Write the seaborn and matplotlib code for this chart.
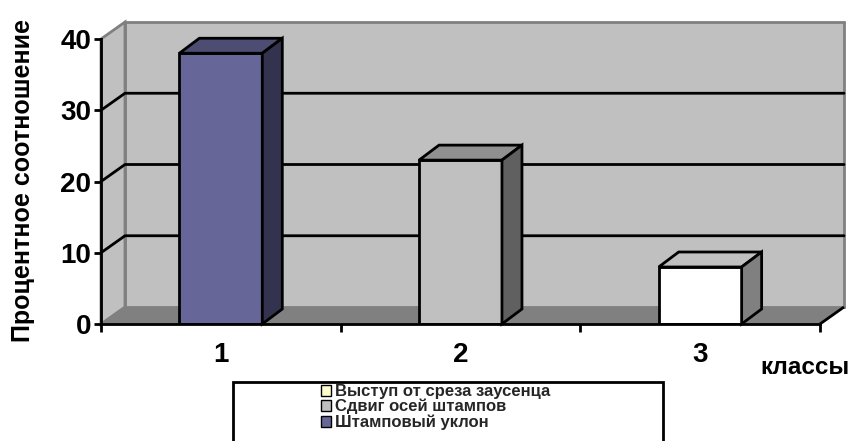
import matplotlib
matplotlib.use("Agg")
import matplotlib.pyplot as plt
from matplotlib.patches import Polygon, Patch, Rectangle
import pandas as pd
import seaborn as sns

# Data
classes = ["1", "2", "3"]
shares = [38, 23, 8]
series_names = ["Выступ от среза заусенца", "Сдвиг осей штампов", "Штамповый уклон"]
legend_colors = ["#FFFFCC", "#C0C0C0", "#666699"]
front_colors = ["#666699", "#C0C0C0", "#FFFFFF"]
top_colors = ["#4D4D73", "#909090", "#C0C0C0"]
side_colors = ["#333350", "#606060", "#808080"]
y_ticks = [0, 10, 20, 30, 40]

sns.set_theme(style="white")
plt.rcParams["font.family"] = ["Liberation Sans", "DejaVu Sans"]
plt.rcParams["font.weight"] = "bold"

W, H = 856, 441
fig = plt.figure(figsize=(W / 100, H / 100), dpi=100)
ax = fig.add_axes([101 / W, 1 - 324 / H, 719 / W, 285 / H])
ax.patch.set_alpha(0)

df = pd.DataFrame({"класс": classes, "доля": shares})
sns.barplot(data=df, x="класс", y="доля", hue="класс", order=classes,
            hue_order=classes, palette=front_colors, width=0.346,
            saturation=1, edgecolor="black", linewidth=2, legend=False,
            ax=ax, zorder=3)
ax.set_xlim(-0.5, 2.5)
ax.set_ylim(0, 40)


def px_to_data(px, py):
    xa, ya = ax.transData.transform((0, 0))
    xb, yb = ax.transData.transform((1, 1))
    return px / (xb - xa), py / (yb - ya)


x0, x1 = ax.get_xlim()
y0, y1 = ax.get_ylim()

# Walls and floor of the 3-D box
wx, wy = px_to_data(24, 17)
ax.add_patch(Rectangle((x0 + wx, y0 + wy), x1 - x0, y1 - y0, fc="#C0C0C0",
                       ec="#808080", lw=2, zorder=0, clip_on=False))
ax.add_patch(Polygon([(x0, y0), (x0 + wx, y0 + wy), (x0 + wx, y1 + wy), (x0, y1)],
                     closed=True, fc="#C0C0C0", ec="#808080", lw=2, zorder=0.2,
                     clip_on=False))
ax.add_patch(Polygon([(x0, y0), (x1, y0), (x1 + wx, y0 + wy), (x0 + wx, y0 + wy)],
                     closed=True, fc="#808080", ec="none", zorder=0.4,
                     clip_on=False))
ax.plot([x1, x1 + wx], [y0, y0 + wy], color="black", lw=2, zorder=0.5,
        clip_on=False, solid_capstyle="butt")

# Gridlines across the side wall and back wall
for v in y_ticks[1:-1]:
    ax.plot([x0, x0 + wx, x1 + wx], [v, v + wy, v + wy], color="black", lw=2,
            zorder=1, clip_on=False)

# Top and side faces of each column
bx, by = px_to_data(20, 15)
for bar, tc, sc in zip(ax.patches, top_colors, side_colors):
    if not isinstance(bar, Rectangle) or bar.get_height() <= 0:
        continue
    x, w, h = bar.get_x(), bar.get_width(), bar.get_height()
    ax.add_patch(Polygon([(x, h), (x + w, h), (x + w + bx, h + by), (x + bx, h + by)],
                         closed=True, fc=tc, ec="black", lw=2, zorder=3,
                         clip_on=False, joinstyle="miter"))
    ax.add_patch(Polygon([(x + w, 0), (x + w + bx, by), (x + w + bx, h + by), (x + w, h)],
                         closed=True, fc=sc, ec="black", lw=2, zorder=3,
                         clip_on=False, joinstyle="miter"))

# Axes, ticks and labels
for s in ("top", "right"):
    ax.spines[s].set_visible(False)
for s in ("left", "bottom"):
    ax.spines[s].set_color("black")
    ax.spines[s].set_linewidth(2)
    ax.spines[s].set_zorder(4)

ax.set_yticks(y_ticks)
ax.set_yticklabels([str(t) for t in y_ticks])
ax.tick_params(axis="y", left=True, direction="out", length=5, width=2,
               color="black", labelsize=20, pad=2)
ax.set_xticks(range(len(classes)))
ax.set_xticklabels(classes)
ax.set_xticks([x0 + i for i in range(len(classes) + 1)], minor=True)
ax.tick_params(axis="x", which="major", bottom=True, length=0, labelsize=20, pad=13)
ax.tick_params(axis="x", which="minor", bottom=True, direction="out", length=6,
               width=2, color="black")
for lab in ax.get_xticklabels() + ax.get_yticklabels():
    lab.set_fontweight("bold")
    lab.set_color("black")

ax.set_xlabel("классы", fontsize=17.5, fontweight="bold", color="black")
ax.xaxis.set_label_coords((805 - 101) / 719, (324 - 368) / 285)
ax.xaxis.label.set_va("center")
ax.set_ylabel("Процентное соотношение", fontsize=18, fontweight="bold", color="black")
ax.yaxis.set_label_coords((23 - 101) / 719, (324 - 180) / 285)
ax.yaxis.label.set_va("center")

# Legend
handles = [Patch(fc=c, ec="black", lw=1) for c in legend_colors]
fig.legend(handles, series_names, loc="upper left",
           bbox_to_anchor=(321 / W, 1 - 384 / H), frameon=False,
           prop={"weight": "bold", "size": 12}, handlelength=0.62,
           handleheight=0.62, handletextpad=0.2, labelspacing=0.0,
           borderpad=0, borderaxespad=0)
fig.add_artist(Rectangle((233 / W, -0.05), (663 - 233) / W, (1 - 382 / H) + 0.05,
                         transform=fig.transFigure, fill=False, ec="black", lw=2))

fig.savefig("out.png", dpi=100)
